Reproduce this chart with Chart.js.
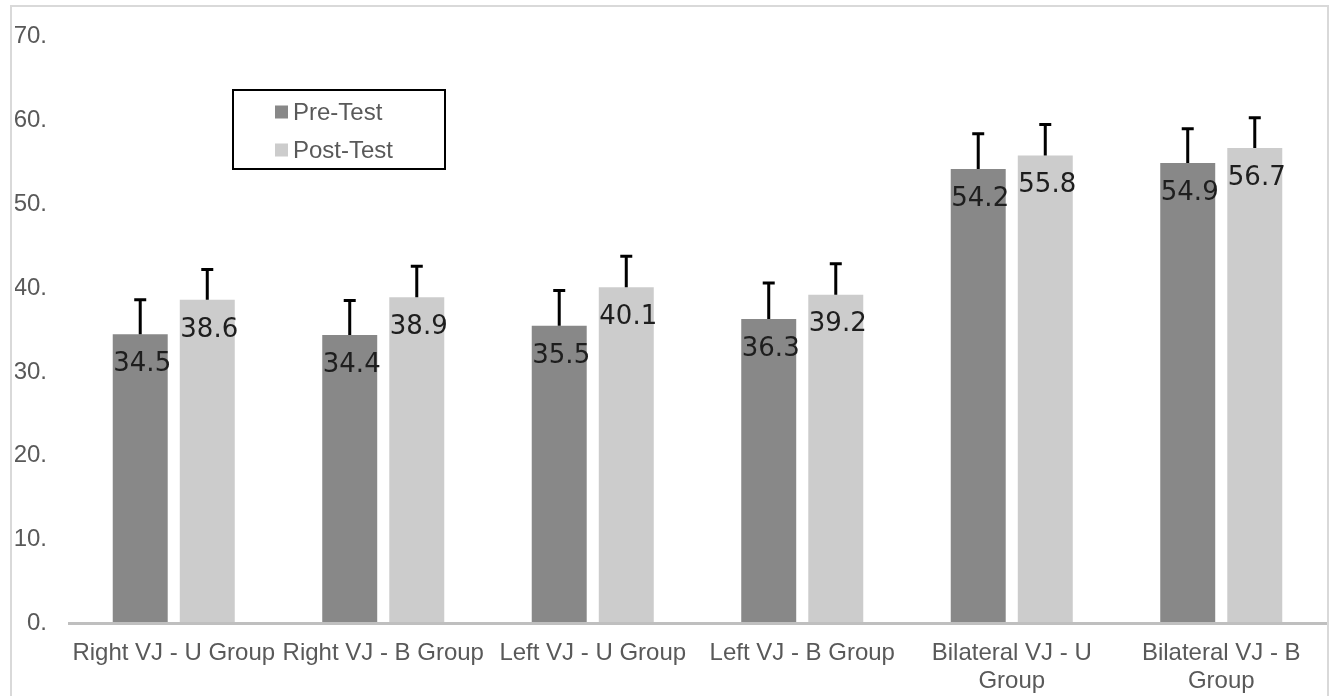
<!DOCTYPE html>
<html>
<head>
<meta charset="utf-8">
<script src="https://cdn.jsdelivr.net/npm/chart.js@4"></script>
<style>
  html, body { margin: 0; padding: 0; background: #fff; overflow: hidden; }
  #frame { position: absolute; left: 10px; top: 5px; width: 1315px; height: 720px; border: 2px solid #d9d9d9; box-sizing: content-box; }
  #wrap { position: absolute; left: 0; top: 0; width: 1332px; height: 696px; }
</style>
</head>
<body>
<div id="frame"></div>
<div id="wrap"><canvas id="c" width="1332" height="696"></canvas></div>
<script>
const categories = [
  "Right VJ - U Group",
  "Right VJ - B Group",
  "Left VJ - U Group",
  "Left VJ - B Group",
  ["Bilateral VJ - U", "Group"],
  ["Bilateral VJ - B", "Group"]
];
const preTest = [34.5, 34.4, 35.5, 36.3, 54.2, 54.9];
const postTest = [38.6, 38.9, 40.1, 39.2, 55.8, 56.7];
const preErr = [4.1, 4.1, 4.2, 4.3, 4.2, 4.1];
const postErr = [3.6, 3.7, 3.7, 3.7, 3.7, 3.6];
const yTicks = [0, 10, 20, 30, 40, 50, 60, 70];
const seriesNames = ["Pre-Test", "Post-Test"];

const AXIS_FONT = "'Liberation Sans', Arial, sans-serif";
const LABEL_FONT = "'DejaVu Sans', Verdana, sans-serif";

const errorBarsPlugin = {
  id: 'errorBars',
  afterDatasetsDraw(chart) {
    const ctx = chart.ctx;
    const yScale = chart.scales.y;
    chart.data.datasets.forEach((ds, di) => {
      const meta = chart.getDatasetMeta(di);
      ctx.save();
      ctx.strokeStyle = '#000';
      ctx.lineWidth = 3;
      meta.data.forEach((el, i) => {
        const top = yScale.getPixelForValue(ds.data[i] + ds.errors[i]);
        ctx.beginPath();
        ctx.moveTo(el.x, el.y);
        ctx.lineTo(el.x, top);
        ctx.moveTo(el.x - 6, top);
        ctx.lineTo(el.x + 6, top);
        ctx.stroke();
      });
      ctx.restore();
    });
    // data labels
    chart.data.datasets.forEach((ds, di) => {
      const meta = chart.getDatasetMeta(di);
      ctx.save();
      ctx.fillStyle = '#1e1e1e';
      ctx.font = "26px " + LABEL_FONT;
      ctx.textAlign = 'center';
      ctx.textBaseline = 'middle';
      meta.data.forEach((el, i) => {
        ctx.fillText(ds.data[i].toFixed(1), el.x + 2, el.y + 30);
      });
      ctx.restore();
    });
  }
};

const legendBoxPlugin = {
  id: 'legendBox',
  afterDraw(chart) {
    const ctx = chart.ctx;
    ctx.save();
    ctx.strokeStyle = '#000';
    ctx.lineWidth = 2;
    ctx.strokeRect(233, 90, 212, 79);
    ctx.font = "24px " + AXIS_FONT;
    ctx.textAlign = 'left';
    ctx.textBaseline = 'middle';
    const rows = [112, 150];
    chart.data.datasets.forEach((ds, di) => {
      const cy = rows[di];
      ctx.fillStyle = ds.backgroundColor;
      ctx.fillRect(275, cy - 6.5, 13, 13);
      ctx.fillStyle = '#595959';
      ctx.fillText(ds.label, 293, cy + 1);
    });
    ctx.restore();
  }
};

new Chart(document.getElementById('c'), {
  type: 'bar',
  data: {
    labels: categories,
    datasets: [
      { label: seriesNames[0], data: preTest, errors: preErr, backgroundColor: '#888888',
        categoryPercentage: 0.64, barPercentage: 0.82 },
      { label: seriesNames[1], data: postTest, errors: postErr, backgroundColor: '#cccccc',
        categoryPercentage: 0.64, barPercentage: 0.82 }
    ]
  },
  options: {
    responsive: false,
    animation: false,
    devicePixelRatio: 1,
    layout: { padding: { left: 15, right: 6, top: 35.5, bottom: 0 } },
    plugins: { legend: { display: false }, tooltip: { enabled: false } },
    scales: {
      x: {
        grid: { display: false, drawTicks: false },
        border: { display: true, color: '#bfbfbf', width: 3, z: 1 },
        ticks: {
          color: '#595959',
          font: { family: AXIS_FONT, size: 24, lineHeight: 1.15 },
          padding: 16,
          maxRotation: 0,
          autoSkip: false
        },
        afterFit(scale) { scale.height = 72.5; }
      },
      y: {
        min: 0, max: 70,
        grid: { display: false, drawTicks: false },
        border: { display: false },
        afterBuildTicks(scale) { scale.ticks = yTicks.map(v => ({ value: v })); },
        ticks: {
          color: '#595959',
          font: { family: AXIS_FONT, size: 24 },
          padding: 22,
          callback: v => v + '.'
        },
        afterFit(scale) { scale.width = 54; }
      }
    }
  },
  plugins: [errorBarsPlugin, legendBoxPlugin]
});
</script>
</body>
</html>
